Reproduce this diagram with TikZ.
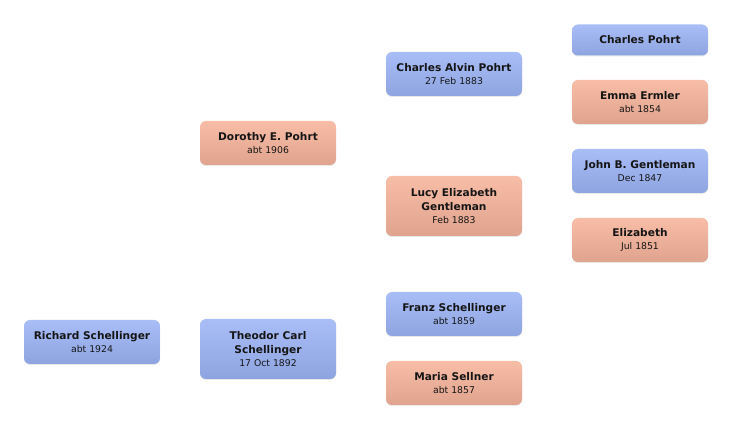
\documentclass[tikz,border=0pt]{standalone}
\usepackage{fontspec}
\setmainfont{DejaVu Sans}
\usetikzlibrary{shadows}
\definecolor{bluetop}{HTML}{A9BEF7}
\definecolor{bluebot}{HTML}{8EA4E0}
\definecolor{redtop}{HTML}{F8BDA7}
\definecolor{redbot}{HTML}{DFA38E}
\definecolor{txt}{HTML}{151515}
\tikzset{
  pbox/.style={rounded corners=6pt, minimum width=136pt, minimum height=44pt,
    inner sep=0pt, align=center, text=txt, font=\fontsize{10.6}{14.3}\selectfont,
    drop shadow={opacity=0.18, shadow xshift=0pt, shadow yshift=-1pt}},
  male/.style={pbox, top color=bluetop, bottom color=bluebot},
  female/.style={pbox, top color=redtop, bottom color=redbot},
  tall/.style={minimum height=60pt},
  short/.style={minimum height=31pt}
}
\newcommand{\nm}[1]{\textbf{#1}}
\newcommand{\dt}[1]{{\fontsize{9.3}{12}\selectfont #1}}
\begin{document}
\begin{tikzpicture}[x=1pt,y=-1pt]
\useasboundingbox (0,0) rectangle (732,430);
\node[male] (richard) at (92,342) {\nm{Richard Schellinger}\\[-1pt]\dt{abt 1924}};
\node[female] (dorothy) at (268,143) {\nm{Dorothy E. Pohrt}\\[-1pt]\dt{abt 1906}};
\node[male,tall] (theodor) at (268,349) {\nm{Theodor Carl}\\\nm{Schellinger}\\[-1pt]\dt{17 Oct 1892}};
\node[male] (charlesa) at (454,74) {\nm{Charles Alvin Pohrt}\\[-1pt]\dt{27 Feb 1883}};
\node[female,tall] (lucy) at (454,206) {\nm{Lucy Elizabeth}\\\nm{Gentleman}\\[-1pt]\dt{Feb 1883}};
\node[male] (franz) at (454,314) {\nm{Franz Schellinger}\\[-1pt]\dt{abt 1859}};
\node[female] (maria) at (454,383) {\nm{Maria Sellner}\\[-1pt]\dt{abt 1857}};
\node[male,short] (charlesp) at (640,40) {\nm{Charles Pohrt}};
\node[female] (emma) at (640,102) {\nm{Emma Ermler}\\[-1pt]\dt{abt 1854}};
\node[male] (john) at (640,171) {\nm{John B. Gentleman}\\[-1pt]\dt{Dec 1847}};
\node[female] (elizabeth) at (640,240) {\nm{Elizabeth}\\[-1pt]\dt{Jul 1851}};
\end{tikzpicture}
\end{document}
